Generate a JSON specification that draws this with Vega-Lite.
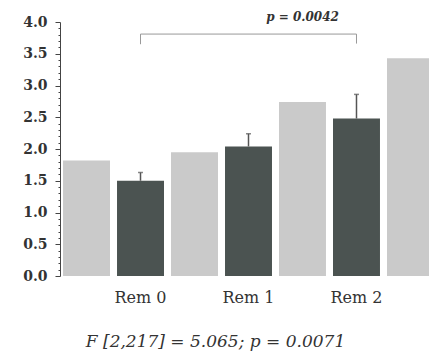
{
  "$schema": "https://vega.github.io/schema/vega-lite/v6.json",
  "width": 369,
  "height": 254,
  "autosize": {"type": "none"},
  "padding": {"left": 60, "top": 22, "right": 0, "bottom": 88},
  "background": "white",
  "config": {"view": {"stroke": null}, "font": "DejaVu Serif"},
  "datasets": {
    "bars": [
      {"k": "a0", "g": "light", "v": 1.82},
      {"k": "d0", "g": "dark", "v": 1.5, "hi": 1.63},
      {"k": "a1", "g": "light", "v": 1.95},
      {"k": "d1", "g": "dark", "v": 2.04, "hi": 2.24},
      {"k": "a2", "g": "light", "v": 2.74},
      {"k": "d2", "g": "dark", "v": 2.48, "hi": 2.86},
      {"k": "a3", "g": "light", "v": 3.43}
    ],
    "bracket": [
      {"k": "d0", "y": 3.65, "o": 1},
      {"k": "d0", "y": 3.81, "o": 2},
      {"k": "d2", "y": 3.81, "o": 3},
      {"k": "d2", "y": 3.66, "o": 4}
    ],
    "note": [{"k": "a2", "y": 4.08, "t": "p = 0.0042"}]
  },
  "resolve": {"axis": {"y": "independent"}},
  "layer": [
    {
      "data": {"name": "bars"},
      "mark": {"type": "bar", "clip": true},
      "encoding": {
        "x": {
          "field": "k", "type": "nominal", "sort": null,
          "scale": {"domain": ["a0","d0","a1","d1","a2","d2","a3"], "range": [0, 377], "paddingInner": 0.13, "paddingOuter": 0.056},
          "axis": {
            "labelExpr": "datum.value=='d0'?'Rem 0':datum.value=='d1'?'Rem 1':datum.value=='d2'?'Rem 2':''",
            "labelAngle": 0, "ticks": false, "domain": false, "labelOverlap": false, "labelBound": false,
            "labelFontSize": 16, "labelColor": "#333", "labelPadding": 13,
            "title": "F [2,217] = 5.065; p = 0.0071", "titleFontSize": 17, "titleFontWeight": "normal",
            "titleColor": "#333", "titleFontStyle": "italic", "titleX": 155, "titlePadding": 28
          }
        },
        "y": {
          "field": "v", "type": "quantitative",
          "scale": {"domain": [0, 4], "nice": false},
          "axis": {
            "values": [0,0.5,1,1.5,2,2.5,3,3.5,4],
            "format": ".1f", "tickSize": 5,
            "labelOverlap": false, "labelBound": false, "labelFlush": false,
            "grid": false, "title": null, "domainColor": "#444", "tickColor": "#444",
            "labelFontSize": 14, "labelColor": "#333", "labelPadding": 8, "labelFontWeight": "bold"
          }
        },
        "color": {
          "field": "g", "type": "nominal",
          "scale": {"domain": ["light", "dark"], "range": ["#cacaca", "#4b5351"]},
          "legend": null
        }
      }
    },
    {
      "data": {"name": "bars"},
      "transform": [{"filter": "datum.hi != null"}],
      "mark": {"type": "rule", "color": "#555", "strokeWidth": 1.5},
      "encoding": {
        "x": {"field": "k", "type": "nominal"},
        "y": {"field": "v", "type": "quantitative",
          "axis": {"orient": "left", "values": [0.1,0.2,0.3,0.4,0.6,0.7,0.8,0.9,1.1,1.2,1.3,1.4,1.6,1.7,1.8,1.9,2.1,2.2,2.3,2.4,2.6,2.7,2.8,2.9,3.1,3.2,3.3,3.4,3.6,3.7,3.8,3.9],
            "labels": false, "domain": false, "tickSize": 2, "tickColor": "#444", "grid": false, "title": null}},
        "y2": {"field": "hi"}
      }
    },
    {
      "data": {"name": "bars"},
      "transform": [{"filter": "datum.hi != null"}],
      "mark": {"type": "tick", "color": "#555", "thickness": 1.5, "size": 5},
      "encoding": {
        "x": {"field": "k", "type": "nominal"},
        "y": {"field": "hi", "type": "quantitative", "axis": null}
      }
    },
    {
      "data": {"name": "bracket"},
      "mark": {"type": "line", "color": "#999", "strokeWidth": 1, "clip": false},
      "encoding": {
        "x": {"field": "k", "type": "nominal"},
        "y": {"field": "y", "type": "quantitative", "axis": null},
        "order": {"field": "o"}
      }
    },
    {
      "data": {"name": "note"},
      "mark": {"type": "text", "fontStyle": "italic", "fontSize": 12, "color": "#333", "fontWeight": "bold"},
      "encoding": {
        "x": {"field": "k", "type": "nominal"},
        "y": {"field": "y", "type": "quantitative", "axis": null},
        "text": {"field": "t"}
      }
    }
  ]
}
